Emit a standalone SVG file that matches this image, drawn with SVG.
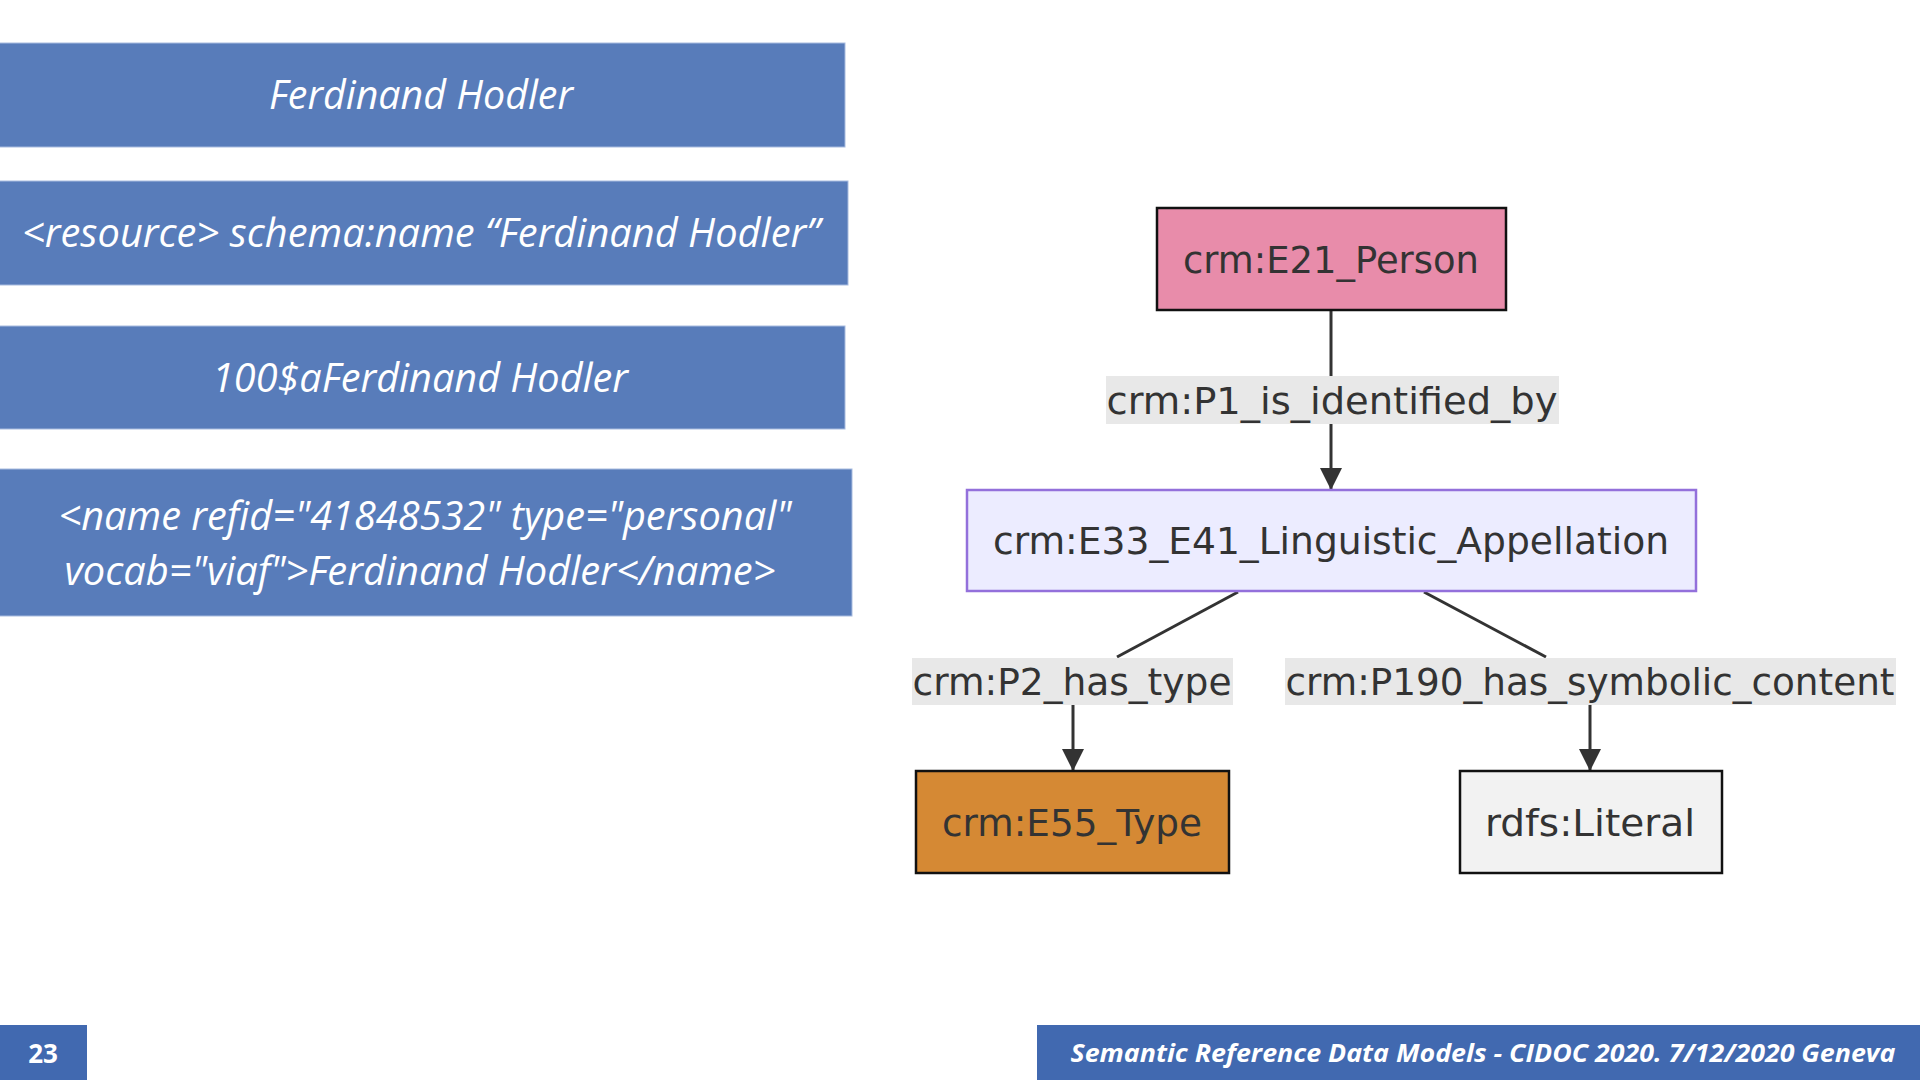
<svg xmlns="http://www.w3.org/2000/svg" width="1920" height="1080" viewBox="0 0 1920 1080">
<style>
.slab{fill:#587cba;stroke:#a7bbdf;stroke-width:1}
.st{font-family:"Open Sans","Liberation Sans",sans-serif;font-style:italic;font-size:40px;fill:#ffffff;text-anchor:middle}
.nt{font-family:"DejaVu Sans","Liberation Sans",sans-serif;font-size:38px;fill:#333333;text-anchor:middle}
.lbl{fill:#e8e8e8}
.edge{stroke:#333333;stroke-width:3;fill:none}
.foot{fill:#4169b0}
.ft{font-family:"Open Sans","Liberation Sans",sans-serif;font-weight:bold;fill:#ffffff}
</style>
<defs>
<marker id="arrow" viewBox="0 0 22 22" refX="22" refY="11" markerWidth="22" markerHeight="22" markerUnits="userSpaceOnUse" orient="auto">
<path d="M0,0 L22,11 L0,22 z" fill="#333333"/>
</marker>
</defs>
<rect width="1920" height="1080" fill="#ffffff"/>

<g id="slab1"><rect class="slab" x="-1" y="43" width="846" height="104"/><text class="st" x="421" y="109" textLength="304" lengthAdjust="spacingAndGlyphs">Ferdinand Hodler</text></g>
<g id="slab2"><rect class="slab" x="-1" y="181" width="849" height="104"/><text class="st" x="421" y="247" textLength="798" lengthAdjust="spacingAndGlyphs">&lt;resource&gt; schema:name “Ferdinand Hodler”</text></g>
<g id="slab3"><rect class="slab" x="-1" y="326" width="846" height="103"/><text class="st" x="420" y="392" textLength="416" lengthAdjust="spacingAndGlyphs">100$aFerdinand Hodler</text></g>
<g id="slab4"><rect class="slab" x="-1" y="469" width="853" height="147"/>
<text class="st" x="425" y="530" textLength="733" lengthAdjust="spacingAndGlyphs">&lt;name refid="41848532" type="personal"</text>
<text class="st" x="420" y="585" textLength="711" lengthAdjust="spacingAndGlyphs">vocab="viaf"&gt;Ferdinand Hodler&lt;/name&gt;</text></g>

<g id="connectors">
<path class="edge" d="M1331,310 L1331,376"/>
<path class="edge" d="M1331,424 L1331,490" marker-end="url(#arrow)"/>
<path class="edge" d="M1238,592 L1117,657"/>
<path class="edge" d="M1073,705 L1073,771" marker-end="url(#arrow)"/>
<path class="edge" d="M1424,592 L1546,657"/>
<path class="edge" d="M1590,705 L1590,771" marker-end="url(#arrow)"/>
</g>

<g id="label-p1"><rect class="lbl" x="1106" y="376" width="453" height="48"/><text class="nt" x="1332" y="414" textLength="451" lengthAdjust="spacingAndGlyphs">crm:P1_is_identified_by</text></g>
<g id="label-p2"><rect class="lbl" x="912" y="658" width="321" height="47"/><text class="nt" x="1072" y="695" textLength="319" lengthAdjust="spacingAndGlyphs">crm:P2_has_type</text></g>
<g id="label-p190"><rect class="lbl" x="1285" y="658" width="611" height="47"/><text class="nt" x="1590" y="695" textLength="609" lengthAdjust="spacingAndGlyphs">crm:P190_has_symbolic_content</text></g>

<g id="node-e21"><rect x="1157" y="208" width="349" height="102" fill="#e88caa" stroke="#111111" stroke-width="2.5"/><text class="nt" x="1331" y="273" textLength="296" lengthAdjust="spacingAndGlyphs">crm:E21_Person</text></g>
<g id="node-e33"><rect x="967" y="490" width="729" height="101" fill="#ececff" stroke="#9370db" stroke-width="2.5"/><text class="nt" x="1331" y="554" textLength="676" lengthAdjust="spacingAndGlyphs">crm:E33_E41_Linguistic_Appellation</text></g>
<g id="node-e55"><rect x="916" y="771" width="313" height="102" fill="#d58934" stroke="#111111" stroke-width="2.5"/><text class="nt" x="1072" y="836" textLength="260" lengthAdjust="spacingAndGlyphs">crm:E55_Type</text></g>
<g id="node-literal"><rect x="1460" y="771" width="262" height="102" fill="#f2f2f2" stroke="#111111" stroke-width="2.5"/><text class="nt" x="1590" y="836" textLength="210" lengthAdjust="spacingAndGlyphs">rdfs:Literal</text></g>

<g id="footer-page"><rect class="foot" x="0" y="1025" width="87" height="55"/><text class="ft" x="43" y="1063" font-size="26" text-anchor="middle">23</text></g>
<g id="footer-title"><rect class="foot" x="1037" y="1025" width="883" height="55"/><text class="ft" x="1483" y="1062" font-size="25.5" font-style="italic" text-anchor="middle" textLength="825" lengthAdjust="spacingAndGlyphs">Semantic Reference Data Models - CIDOC 2020. 7/12/2020 Geneva</text></g>
</svg>
